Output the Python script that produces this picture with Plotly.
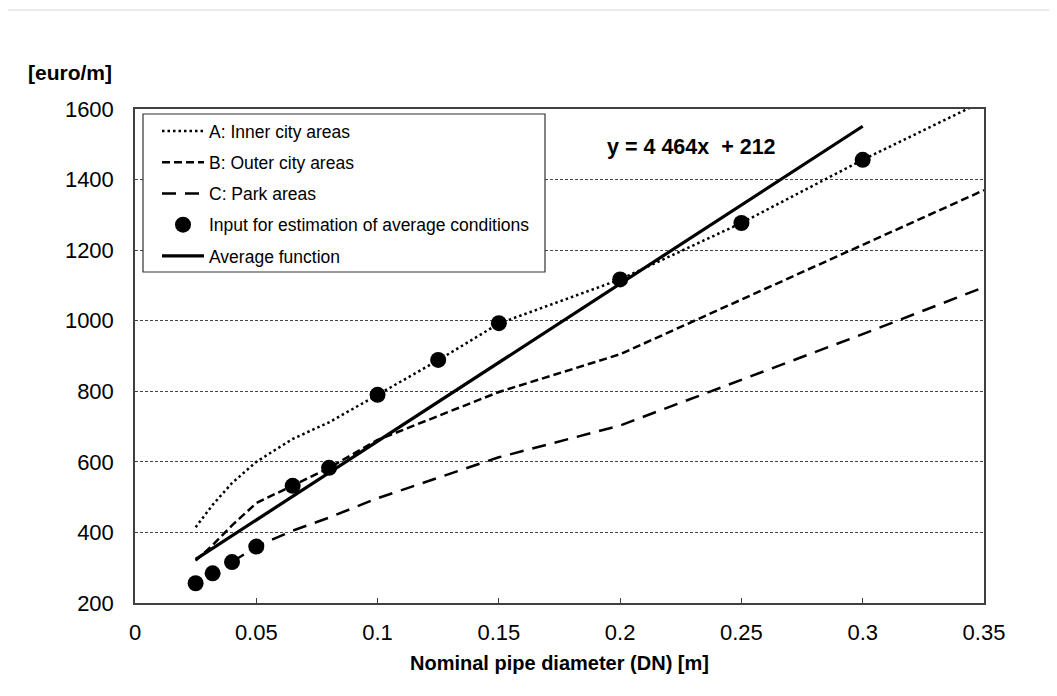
import plotly.graph_objects as go

# ---- data ----
x_a = [0.025, 0.032, 0.04, 0.05, 0.065, 0.08, 0.1, 0.125, 0.15, 0.2, 0.25, 0.3, 0.35]
y_a = [415, 478, 540, 600, 665, 712, 790, 888, 992, 1117, 1277, 1456, 1623]

x_b = [0.025, 0.032, 0.04, 0.05, 0.065, 0.08, 0.1, 0.15, 0.2, 0.25, 0.3, 0.35]
y_b = [320, 364, 420, 483, 533, 583, 662, 798, 905, 1060, 1215, 1370]

x_c = [0.04, 0.05, 0.065, 0.08, 0.1, 0.125, 0.15, 0.2, 0.25, 0.3, 0.35]
y_c = [316, 360, 405, 442, 497, 555, 613, 703, 832, 962, 1095]

x_pts = [0.025, 0.032, 0.04, 0.05, 0.065, 0.08, 0.1, 0.125, 0.15, 0.2, 0.25, 0.3]
y_pts = [256, 284, 316, 360, 532, 583, 790, 889, 993, 1117, 1277, 1456]

avg_slope = 4464
avg_intercept = 212
x_avg = [0.025, 0.3]
y_avg = [avg_slope * v + avg_intercept for v in x_avg]

x_ticks = [0, 0.05, 0.1, 0.15, 0.2, 0.25, 0.3, 0.35]
x_ticktext = ["0", "0.05", "0.1", "0.15", "0.2", "0.25", "0.3", "0.35"]
y_ticks = [200, 400, 600, 800, 1000, 1200, 1400, 1600]

names = ["A: Inner city areas", "B: Outer city areas", "C: Park areas",
         "Input for estimation of average conditions", "Average function"]

FONT = "Arial, Liberation Sans, sans-serif"

# ---- geometry (page has an 8px body margin) ----
OFF = 8
W, H = 1057 - OFF, 696 - OFF
L, T = 135 - OFF, 109 - OFF
PW, PH = 849, 494
R, B = W - L - PW, H - T - PH


def px(xp):  # page pixel -> paper x
    return (xp - OFF - L) / PW


def py(yp):  # page pixel -> paper y
    return (T + PH - (yp - OFF)) / PH


fig = go.Figure()
fig.add_trace(go.Scatter(x=x_a, y=y_a, mode="lines", name=names[0], legendrank=1,
                         legendgroup="g1", line=dict(color="black", width=2.5, dash="2.5px,3px")))
fig.add_trace(go.Scatter(x=x_b, y=y_b, mode="lines", name=names[1], legendrank=2,
                         legendgroup="g2", line=dict(color="black", width=2.5, dash="8px,4px")))
fig.add_trace(go.Scatter(x=x_c, y=y_c, mode="lines", name=names[2], legendrank=3,
                         legendgroup="g3", line=dict(color="black", width=2.5, dash="14px,9px")))
fig.add_trace(go.Scatter(x=x_avg, y=y_avg, mode="lines", name=names[4], legendrank=5,
                         legendgroup="g5", line=dict(color="black", width=3.2)))
fig.add_trace(go.Scatter(x=x_pts, y=y_pts, mode="markers", name=names[3], legendrank=4,
                         legendgroup="g4", marker=dict(color="black", size=16)))

fig.add_annotation(x=0.2296, y=1492, xref="x", yref="y", text="<b>y = 4 464x  + 212</b>",
                   showarrow=False, font=dict(family=FONT, size=21.5, color="black"))
fig.add_annotation(x=px(26), y=py(73), xref="paper", yref="paper", xanchor="left",
                   yanchor="middle", text="<b>[euro/m]</b>", showarrow=False,
                   font=dict(family=FONT, size=21, color="black"))

# legend frame
fig.add_shape(type="rect", xref="paper", yref="paper",
              x0=px(143), x1=px(545), y0=py(272), y1=py(114),
              line=dict(color="#333333", width=1.2), fillcolor="white", layer="above")
# faint top line
fig.add_shape(type="line", xref="paper", yref="paper",
              x0=px(5), x1=px(1057), y0=py(10), y1=py(10),
              line=dict(color="#e4e4e4", width=1.5))

fig.update_layout(
    width=W, height=H,
    margin=dict(l=L, r=R, t=T, b=B),
    paper_bgcolor="white", plot_bgcolor="white",
    font=dict(family=FONT, color="black"),
    legend=dict(x=px(157), y=py(113), xanchor="left", yanchor="top",
                bgcolor="rgba(0,0,0,0)", borderwidth=0,
                font=dict(family=FONT, size=17.5, color="black"),
                tracegroupgap=5.5, itemwidth=42, traceorder="grouped"),
    showlegend=True,
)
fig.update_xaxes(range=[0, 0.35], tickvals=x_ticks, ticktext=x_ticktext,
                 showgrid=False, zeroline=False,
                 showline=True, linecolor="#404040", linewidth=1.5, mirror=True,
                 ticks="inside", ticklen=5, tickcolor="#404040", tickwidth=1.2,
                 tickfont=dict(family=FONT, size=22, color="black"),
                 ticklabelstandoff=9,
                 title=dict(text="<b>Nominal pipe diameter (DN) [m]</b>", standoff=12,
                            font=dict(family=FONT, size=20, color="black")))
fig.update_yaxes(range=[200, 1600], tickvals=y_ticks,
                 showgrid=True, gridcolor="#454545", gridwidth=1, griddash="3px,2px",
                 zeroline=False,
                 showline=True, linecolor="#404040", linewidth=1.5, mirror=True,
                 ticks="", tickfont=dict(family=FONT, size=22, color="black"),
                 ticklabelstandoff=15)

fig.write_html("out.html")
